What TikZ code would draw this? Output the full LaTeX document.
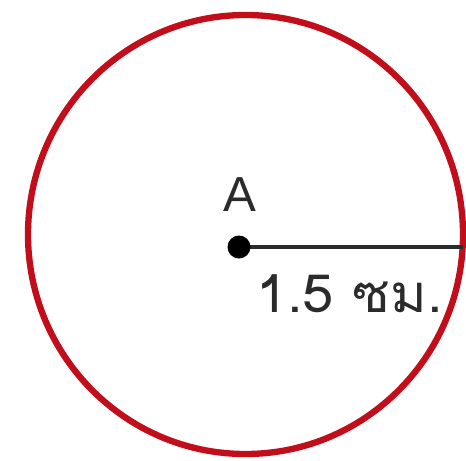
\documentclass[tikz,border=0pt]{standalone}
\usepackage{fontspec}
\usepackage{tikz}
\usetikzlibrary{positioning}
\newfontfamily\thaifont[Script=Thai]{Loma}
\setmainfont{Liberation Sans}
\definecolor{rimred}{HTML}{C20E1A}
\definecolor{inkgrey}{HTML}{2B2B2B}

\tikzset{
  rimline/.style={draw=rimred, line width=3.6pt},
  radiusline/.style={draw=inkgrey, line width=2.2pt},
  centerdot/.style={circle, fill=black, inner sep=0pt, minimum size=0.46cm},
  lbl/.style={text=inkgrey, inner sep=0pt, font=\fontsize{28}{30}\selectfont}
}

\begin{document}
\begin{tikzpicture}[x=0.02cm, y=0.02cm]
      \useasboundingbox (0,0) rectangle (466,-460);
      % the circle
      \draw[rimline] (245.5,-234.5) ellipse [x radius=217.5, y radius=219.5];
      % centre A and the radius
      \coordinate (rim) at (463,-247);
      \draw[radiusline] (239,-247) -- (rim);
      \node[centerdot] (ptA) at (239,-247) {};
      \node[lbl, anchor=base] (labA) at (240,-211) {A};
      \node[lbl, anchor=base west, font=\fontsize{30}{32}\selectfont\thaifont,
            xscale=1.06] (lenlbl) at (256,-312) {1.5 ซม.};
    \end{tikzpicture}
\end{document}
